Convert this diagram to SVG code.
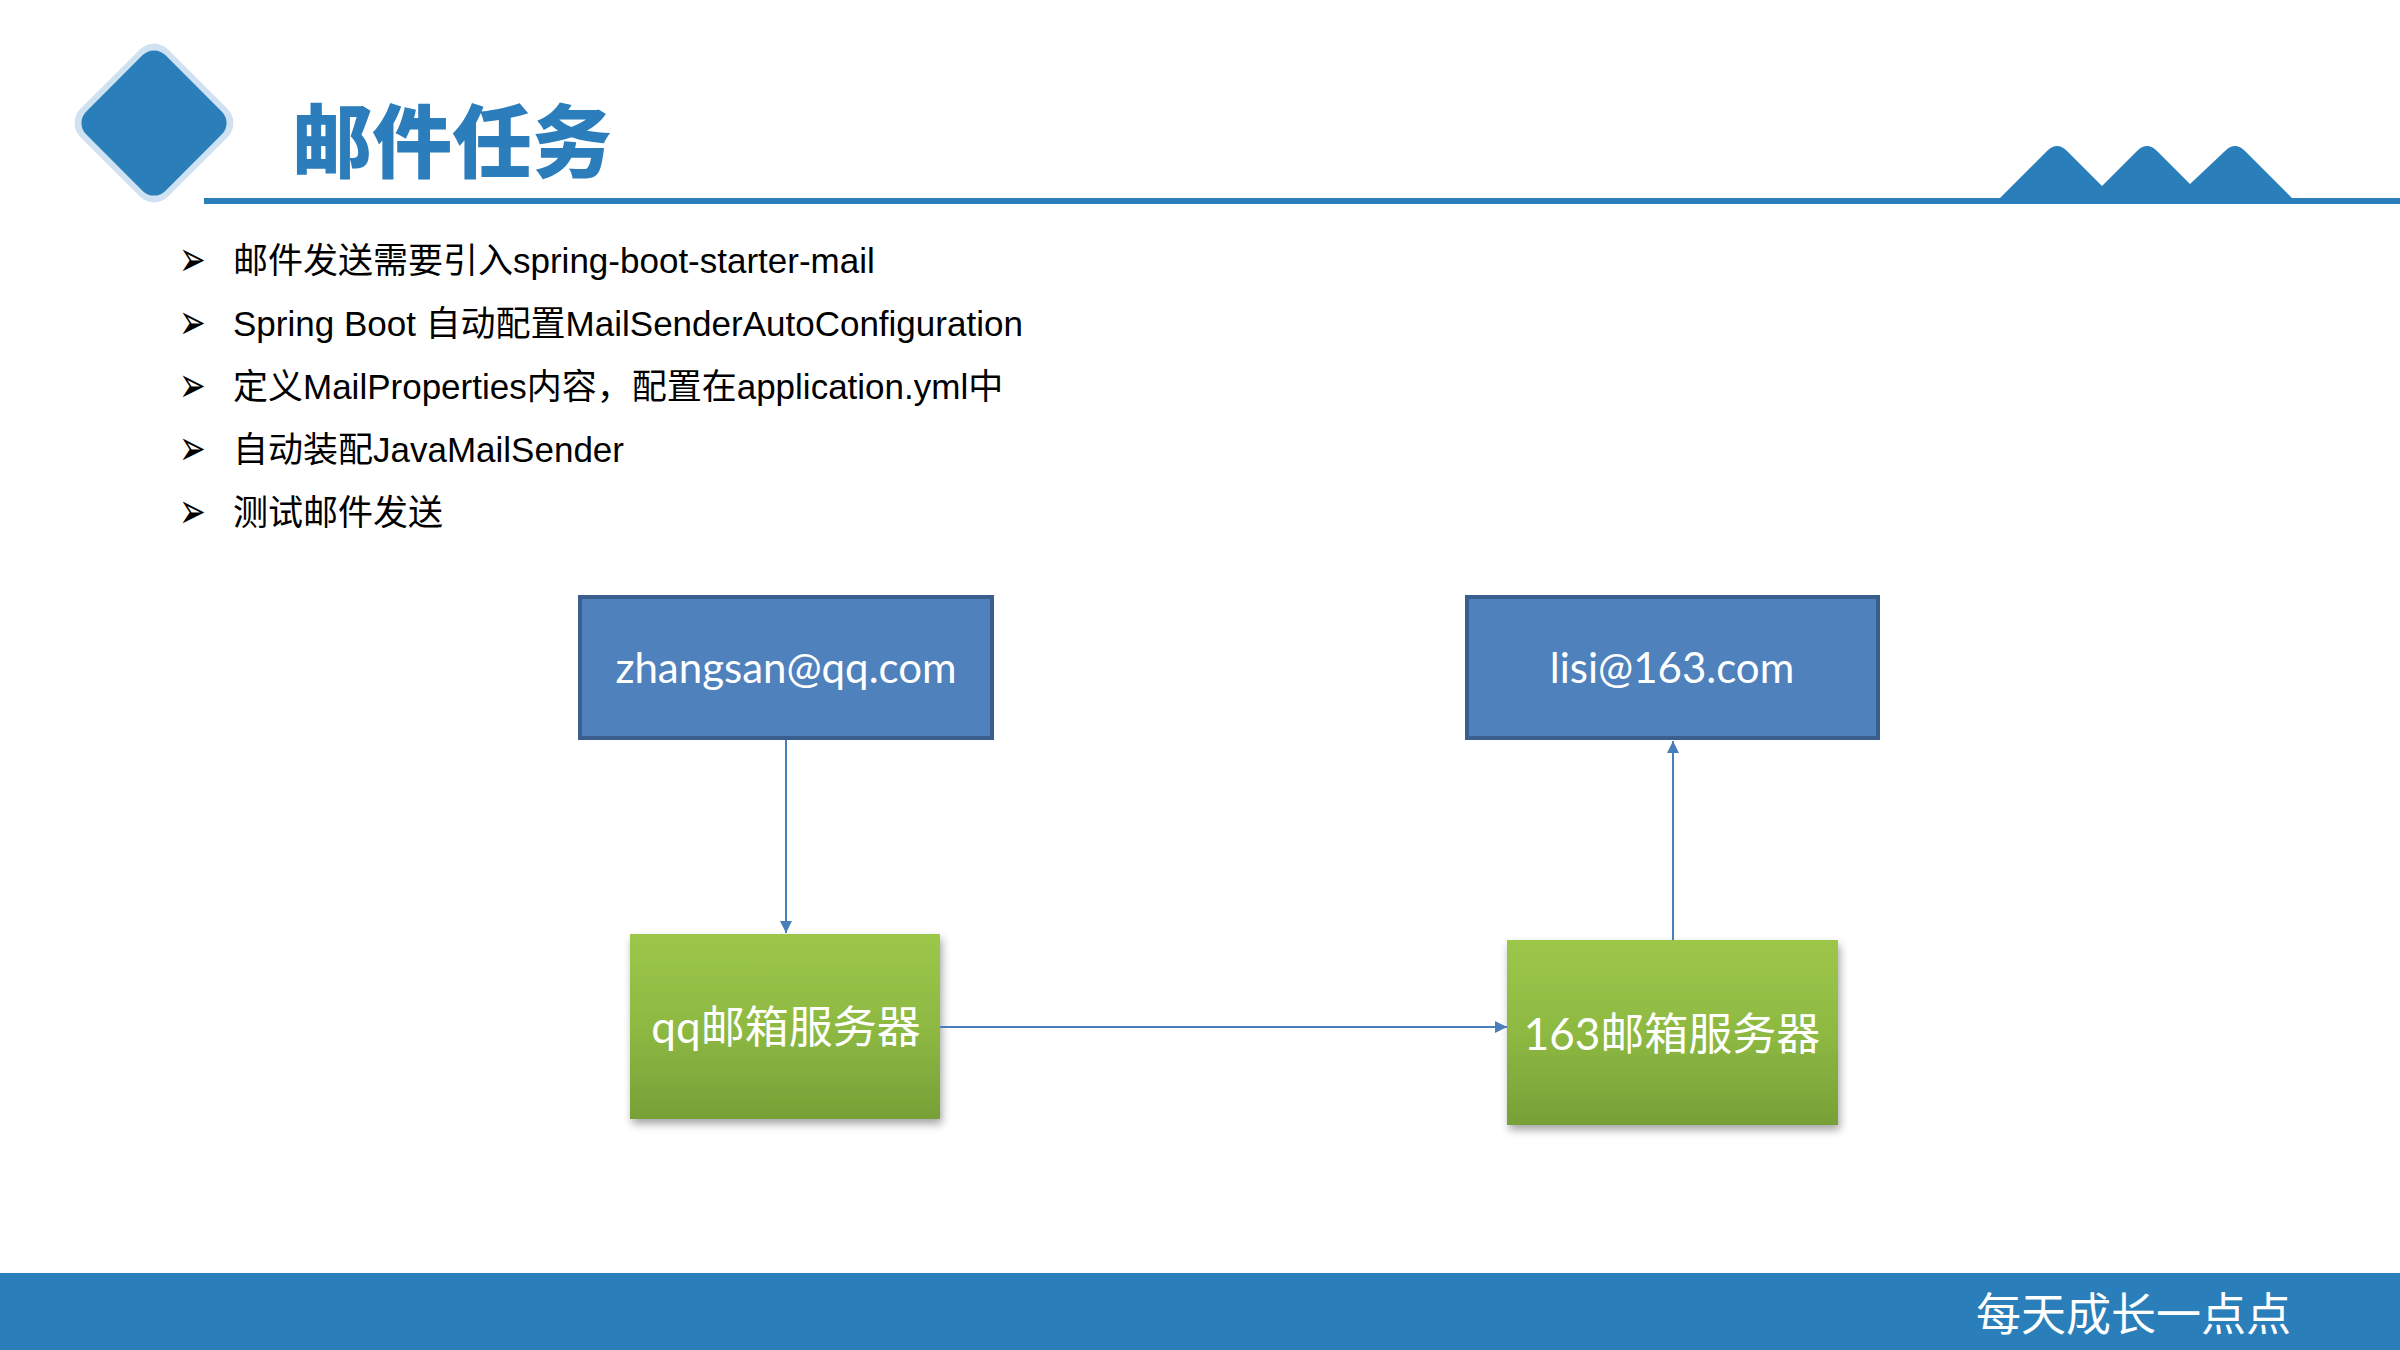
<svg xmlns="http://www.w3.org/2000/svg" width="2400" height="1350" viewBox="0 0 2400 1350">
<defs>
<style>
.title{font-family:"Noto Sans CJK SC","Noto Sans",sans-serif;font-weight:900;font-size:80px;fill:#2B7DBB}
.bul{font-family:"Liberation Sans","Noto Sans CJK SC",sans-serif;font-size:35px;fill:#000}
.arw{font-family:"DejaVu Sans",sans-serif;font-size:32px;fill:#000}
.btxt{font-family:Lato,"Noto Sans CJK SC",sans-serif;font-size:42px;fill:#fff;text-anchor:middle}
.gtxt{font-family:Lato,"Noto Sans CJK SC",sans-serif;font-size:44px;fill:#fff;text-anchor:middle}
.foot{font-family:"Noto Sans CJK SC",sans-serif;font-size:45px;fill:#fff}
.bluebox{fill:#4F81BD;stroke:#3A5F8F;stroke-width:4}
.greenbox{fill:url(#gg);filter:url(#sh)}
.conn{stroke:#4A7EBB;stroke-width:2;fill:none;marker-end:url(#ah)}
</style>
<linearGradient id="gg" x1="0" y1="0" x2="0" y2="1">
<stop offset="0" stop-color="#9DC74A"/>
<stop offset="0.5" stop-color="#8EB942"/>
<stop offset="1" stop-color="#77A037"/>
</linearGradient>
<filter id="sh" x="-10%" y="-10%" width="130%" height="130%">
<feDropShadow dx="2" dy="5" stdDeviation="4" flood-color="#000" flood-opacity="0.35"/>
</filter>
<marker id="ah" markerUnits="userSpaceOnUse" markerWidth="14" markerHeight="14" refX="12" refY="6" orient="auto">
<path d="M0,0 L12,6 L0,12 z" fill="#4A7EBB"/>
</marker>
</defs>
<rect x="0" y="0" width="2400" height="1350" fill="#fff"/>
<!-- header -->
<g id="header">
<rect x="92" y="61" width="124" height="124" rx="20" fill="#D0E2F2" transform="rotate(45 154 123)"/>
<rect x="98" y="67" width="112" height="112" rx="16" fill="#2A7FBA" transform="rotate(45 154 123)"/>
<text class="title" x="292" y="171">邮件任务</text>
<rect x="204" y="198" width="2196" height="6" fill="#2A7FBA"/>
<path d="M1999,199 L2047,151 Q2057,141 2067,151 L2102,186 L2137,151 Q2147,141 2157,151 L2190,184 L2225,151 Q2235,141 2245,151 L2293,199 Z" fill="#2A7FBA"/>
</g>
<!-- bullets -->
<g id="bullets">
<text class="arw" transform="translate(179,276) scale(1,1.55)">➢</text>
<text class="bul" x="233" y="273">邮件发送需要引入spring-boot-starter-mail</text>
<text class="arw" transform="translate(179,339) scale(1,1.55)">➢</text>
<text class="bul" x="233" y="336">Spring Boot 自动配置MailSenderAutoConfiguration</text>
<text class="arw" transform="translate(179,402) scale(1,1.55)">➢</text>
<text class="bul" x="233" y="399">定义MailProperties内容，配置在application.yml中</text>
<text class="arw" transform="translate(179,465) scale(1,1.55)">➢</text>
<text class="bul" x="233" y="462">自动装配JavaMailSender</text>
<text class="arw" transform="translate(179,528) scale(1,1.55)">➢</text>
<text class="bul" x="233" y="525">测试邮件发送</text>
</g>
<!-- nodes -->
<g id="node-zhangsan">
<rect class="bluebox" x="580" y="597" width="412" height="141"/>
<text class="btxt" x="786" y="683">zhangsan@qq.com</text>
</g>
<g id="node-lisi">
<rect class="bluebox" x="1467" y="597" width="411" height="141"/>
<text class="btxt" x="1672" y="683">lisi@163.com</text>
</g>
<g id="node-qqserver">
<rect class="greenbox" x="630" y="934" width="310" height="185"/>
<text class="gtxt" x="786" y="1043">qq邮箱服务器</text>
</g>
<g id="node-163server">
<rect class="greenbox" x="1507" y="940" width="331" height="185"/>
<text class="gtxt" x="1672" y="1050">163邮箱服务器</text>
</g>
<!-- connectors -->
<g id="connectors">
<path class="conn" d="M786,740 L786,933"/>
<path class="conn" d="M940,1027 L1507,1027"/>
<path class="conn" d="M1673,940 L1673,741"/>
</g>
<!-- footer -->
<g id="footer">
<rect x="0" y="1273" width="2400" height="77" fill="#2A7FBA"/>
<text class="foot" x="1976" y="1331">每天成长一点点</text>
</g>
</svg>
